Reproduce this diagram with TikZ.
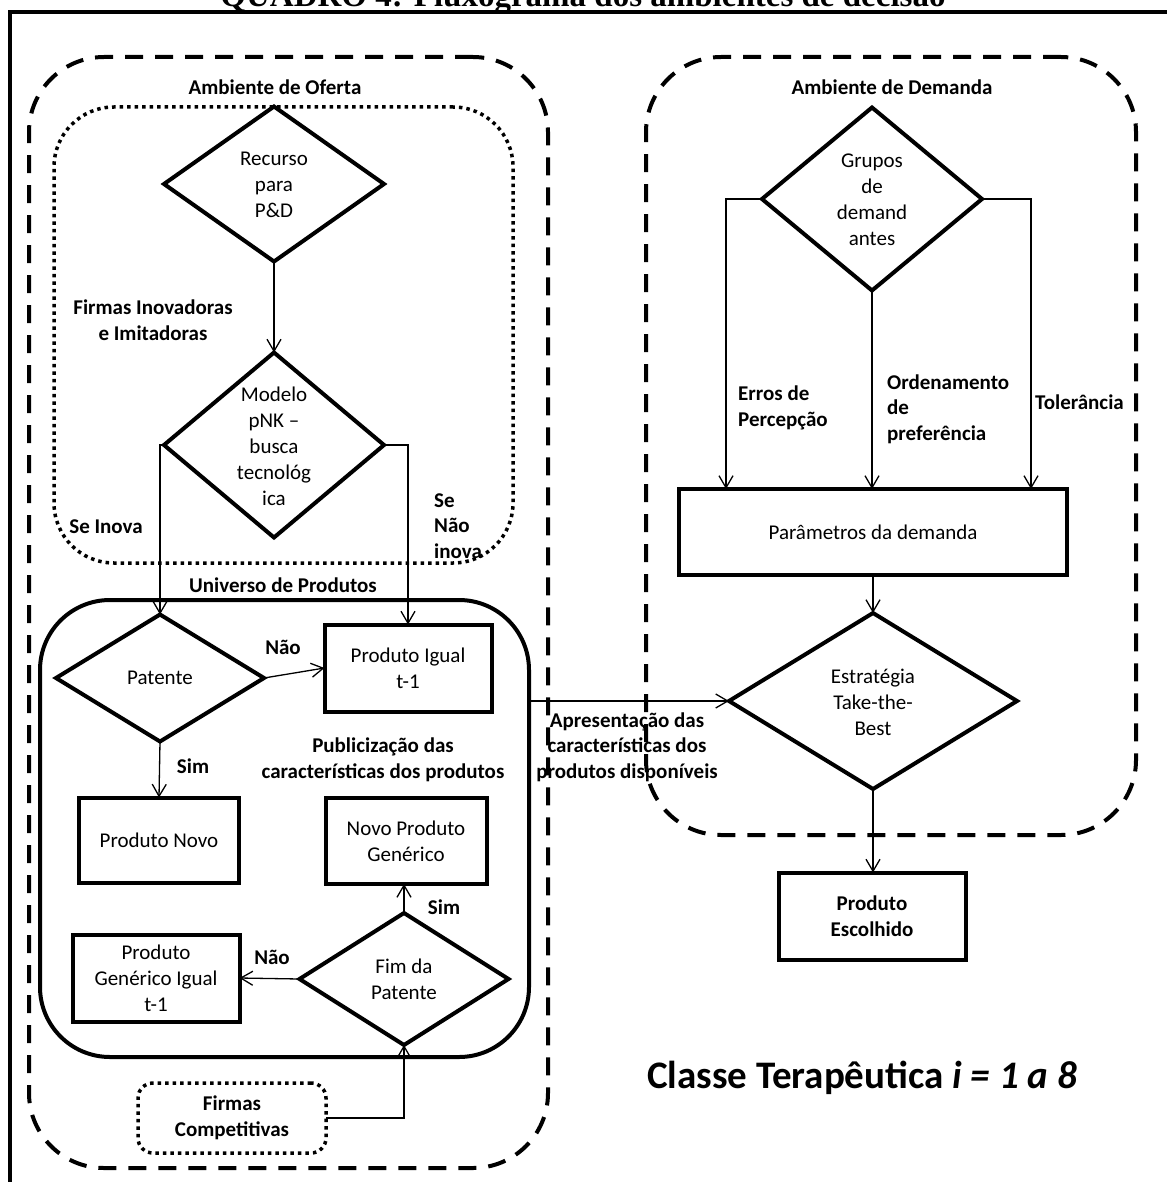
\documentclass[tikz,border=0pt]{standalone}
\usepackage{fontspec}
\setmainfont{Carlito}
\newfontfamily\titlefont{Liberation Serif}
\usetikzlibrary{shapes.geometric,arrows.meta}
\begin{document}
\begin{tikzpicture}[x=1pt,y=-1pt,
  dia/.style={diamond, draw, line width=4pt, inner sep=0pt, outer sep=0pt, aspect=1},
  box/.style={rectangle, draw, line width=4pt, inner sep=0pt, outer sep=0pt, align=center, font=\fontsize{21}{26}\selectfont},
  txt/.style={align=center, inner sep=0pt, font=\fontsize{21}{26}\selectfont},
  lbl/.style={align=center, inner sep=0pt, font=\fontsize{21}{25.5}\selectfont\bfseries},
  conn/.style={line width=1.3pt, -{Straight Barb[length=12pt,width=14pt]}},
  envdash/.style={rectangle, draw, line width=4pt, dash pattern=on 18pt off 12pt, rounded corners=75pt, inner sep=0pt, outer sep=0pt},
  envdot/.style={rectangle, draw, line width=3.5pt, dash pattern=on 3.5pt off 4pt, inner sep=0pt, outer sep=0pt},
  univbox/.style={rectangle, draw, line width=4pt, rounded corners=70pt, inner sep=0pt, outer sep=0pt}
]
\useasboundingbox (0,0) rectangle (1166,1182);
% outer frame
\draw[line width=4pt] (10,12) rectangle (1190,1210);
\node[font=\titlefont\bfseries\fontsize{33}{33}\selectfont, anchor=base, inner sep=0pt] (title) at (583,7) {QUADRO 4: Fluxograma dos ambientes de decisão};

% environments
\node[envdash, minimum width=519, minimum height=1111] (oferta) at (288.5,612.5) {};
\node[envdash, minimum width=490, minimum height=778] (demanda) at (891,446) {};
\node[envdot, rounded corners=60pt, minimum width=459, minimum height=456] (firmasinov) at (283.5,335) {};
\node[univbox, minimum width=489, minimum height=457] (univ) at (284.5,828.5) {};
\node[envdot, rounded corners=15pt, minimum width=188, minimum height=70, lbl] (fc) at (232,1118) {Firmas\\Competitivas};

\node[lbl] (lofer) at (275,87) {Ambiente de Oferta};
\node[lbl] (ldem) at (892,87) {Ambiente de Demanda};

% left side nodes
\node[dia, minimum width=220, minimum height=155] (rec) at (274,184) {};
\node[txt] (trec) at (274,185) {Recurso\\para\\P\&D};
\node[lbl] (lfirm) at (153,320) {Firmas Inovadoras\\e Imitadoras};
\node[dia, minimum width=220, minimum height=185] (mod) at (274,445) {};
\node[txt] (tmod) at (274,446) {Modelo\\pNK –\\busca\\tecnológ\\ica};
\node[lbl] (lseinova) at (106,527) {Se Inova};
\node[lbl, align=left, anchor=west] (lsenao) at (434,526) {Se\\Não\\inova};
\node[lbl] (luniv) at (283,585) {Universo de Produtos};

\node[dia, minimum width=208, minimum height=127] (pat) at (160,678) {};
\node[txt] (tpat) at (160,678) {Patente};
\node[box, minimum width=167, minimum height=87] (pig) at (408,668) {Produto Igual\\t-1};
\node[lbl] (lnao1) at (283,647) {Não};
\node[lbl] (lsim1) at (193,766) {Sim};
\node[box, minimum width=160, minimum height=85] (pnovo) at (159,840) {Produto Novo};
\node[lbl] (lpub) at (383,760) {Publicização das\\características dos produtos};
\node[box, minimum width=161, minimum height=86] (ngen) at (406,841) {Novo Produto\\Genérico};
\node[dia, minimum width=209, minimum height=132] (fim) at (404,979) {};
\node[txt] (tfim) at (404,979) {Fim da\\Patente};
\node[box, minimum width=167, minimum height=87] (pgi) at (156,978) {Produto\\Genérico Igual\\t-1};
\node[lbl] (lsim2) at (444,907) {Sim};
\node[lbl] (lnao2) at (272,957) {Não};

% right side nodes
\node[dia, minimum width=220, minimum height=183] (grp) at (872,199) {};
\node[txt] (tgrp) at (872,200) {Grupos\\de\\demand\\antes};
\node[box, minimum width=388, minimum height=86] (param) at (873,532) {Parâmetros da demanda};
\node[lbl, align=left, anchor=west] (lerros) at (738,408) {Erros de\\Percepção};
\node[lbl, align=left, anchor=west] (lord) at (887,409) {Ordenamento\\de\\preferência};
\node[lbl, align=left, anchor=west] (ltol) at (1035,402) {Tolerância};
\node[dia, minimum width=288, minimum height=176] (estr) at (873,701) {};
\node[txt] (testr) at (873,702) {Estratégia\\Take-the-\\Best};
\node[box, minimum width=187, minimum height=87, font=\fontsize{21}{26}\selectfont\bfseries] (pe) at (872,916) {Produto\\Escolhido};
\node[lbl] (lapres) at (627,747) {Apresentação das\\características dos\\produtos disponíveis};
\node[inner sep=0pt, font=\fontsize{39}{39}\selectfont\bfseries] (classe) at (862,1078) {Classe Terapêutica \textit{i = 1 a 8}};

% connectors
\draw[conn] (rec.south) -- (mod.north);
\draw[conn] (mod.west) -| (pat.north);
\draw[conn] (mod.east) -| (pig.north);
\draw[conn] (pat.east) -- (pig.west);
\draw[conn] (pat.south) -- (pnovo.north);
\draw[conn] (fim.north) -- (fim.north |- ngen.south);
\draw[conn] (fim.west) -- (pgi.east);
\draw[conn] (fc.east) -| (fim.south);
\draw[conn] (grp.west) -| ([xshift=47pt]param.north west);
\draw[conn] (grp.east) -| ([xshift=-36pt]param.north east);
\draw[conn] (grp.south) -- (grp.south |- param.north);
\draw[conn] (param.south) -- (estr.north);
\draw[conn] (estr.west -| univ.east) -- (estr.west);
\draw[conn] (estr.south) -- (estr.south |- pe.north);
\end{tikzpicture}
\end{document}
